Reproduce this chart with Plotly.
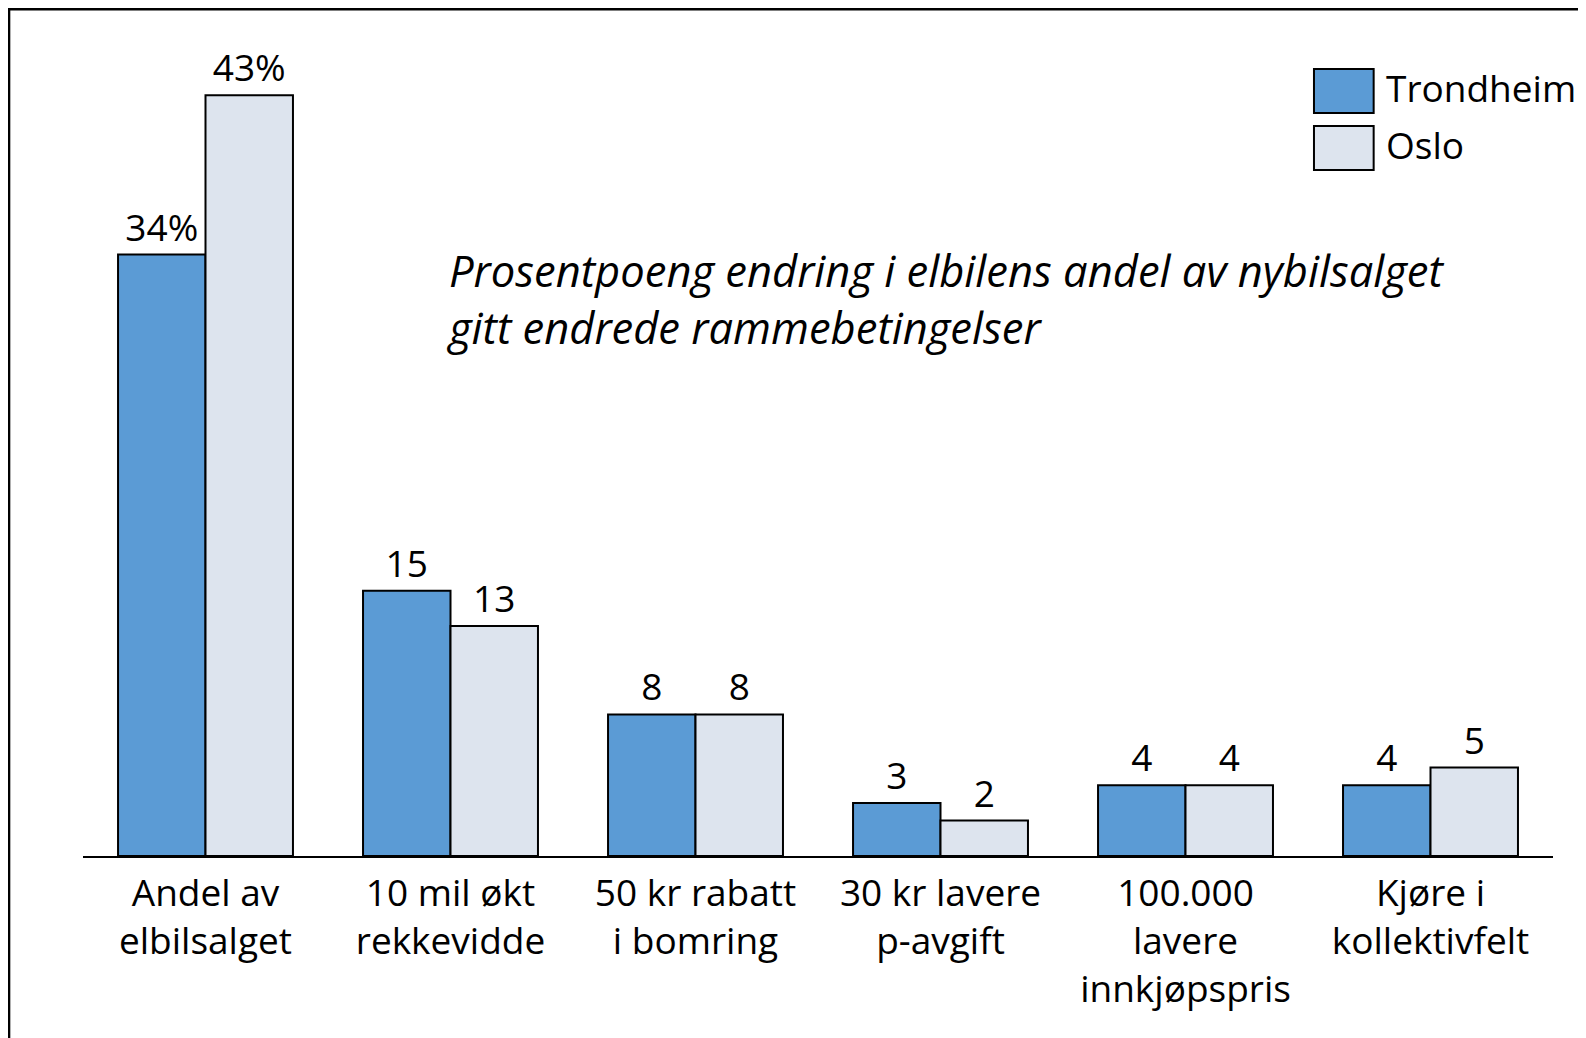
import plotly.graph_objects as go

# Categories and values (percentage points)
categories = [
    "Andel av<br>elbilsalget",
    "10 mil økt<br>rekkevidde",
    "50 kr rabatt<br>i bomring",
    "30 kr lavere<br>p-avgift",
    "100.000<br>lavere<br>innkjøpspris",
    "Kjøre i<br>kollektivfelt",
]
trondheim = [34, 15, 8, 3, 4, 4]
oslo = [43, 13, 8, 2, 4, 5]
trondheim_labels = ["34%", "15", "8", "3", "4", "4"]
oslo_labels = ["43%", "13", "8", "2", "4", "5"]

title_text = ("Prosentpoeng endring i elbilens andel av nybilsalget<br>"
              "gitt endrede rammebetingelser")

BLUE = "#5B9BD5"
LIGHT = "#DDE4EE"
FONT = "Open Sans"
FS = 37

fig = go.Figure()
for name, vals, labels, color in [
    ("Trondheim", trondheim, trondheim_labels, BLUE),
    ("Oslo", oslo, oslo_labels, LIGHT),
]:
    fig.add_trace(go.Bar(
        x=categories, y=vals, name=name,
        text=labels, textposition="outside",
        textfont=dict(family=FONT, size=FS, color="black"),
        marker=dict(color=color, line=dict(color="black", width=2)),
        cliponaxis=False,
    ))

# page body adds an 8px offset, so margins are shifted by that much
fig.update_layout(
    width=1586, height=1038,
    margin=dict(l=75, r=41, t=32, b=190),
    paper_bgcolor="white", plot_bgcolor="white",
    barmode="group", bargap=0.286, bargroupgap=0,
    showlegend=False,
    font=dict(family=FONT, size=FS, color="black"),
)
fig.update_xaxes(
    showline=True, linecolor="black", linewidth=1.5,
    ticks="", showgrid=False, ticklabelstandoff=4,
    tickfont=dict(family=FONT, size=FS, color="black"),
)
fig.update_yaxes(range=[0, 46.13], visible=False, showgrid=False)

# italic title inside plot
fig.add_annotation(
    xref="paper", yref="paper", x=0.246, y=0.683,
    xanchor="left", yanchor="middle", align="left",
    text=f"<i>{title_text}</i>", showarrow=False,
    font=dict(family=FONT, size=43.5, color="black"),
)

# legend drawn by hand with big swatches
legend_items = [("Trondheim", BLUE, 0.9105, 0.9645), ("Oslo", LIGHT, 0.8407, 0.8946)]
for name, color, y0, y1 in legend_items:
    fig.add_shape(type="rect", xref="paper", yref="paper",
                  x0=0.8374, x1=0.878, y0=y0, y1=y1,
                  fillcolor=color, line=dict(color="black", width=2))
    fig.add_annotation(xref="paper", yref="paper", x=0.885, y=(y0 + y1) / 2 + 0.004,
                       xanchor="left", yanchor="middle", text=name,
                       showarrow=False, font=dict(family=FONT, size=FS, color="black"))

# outer frame (only top and left edges fall inside the picture)
fig.add_shape(type="rect", xref="paper", yref="paper",
              x0=-0.0503, x1=1.2, y0=-0.5, y1=1.0376,
              line=dict(color="black", width=2.5), layer="below")

fig.write_html("out.html")
